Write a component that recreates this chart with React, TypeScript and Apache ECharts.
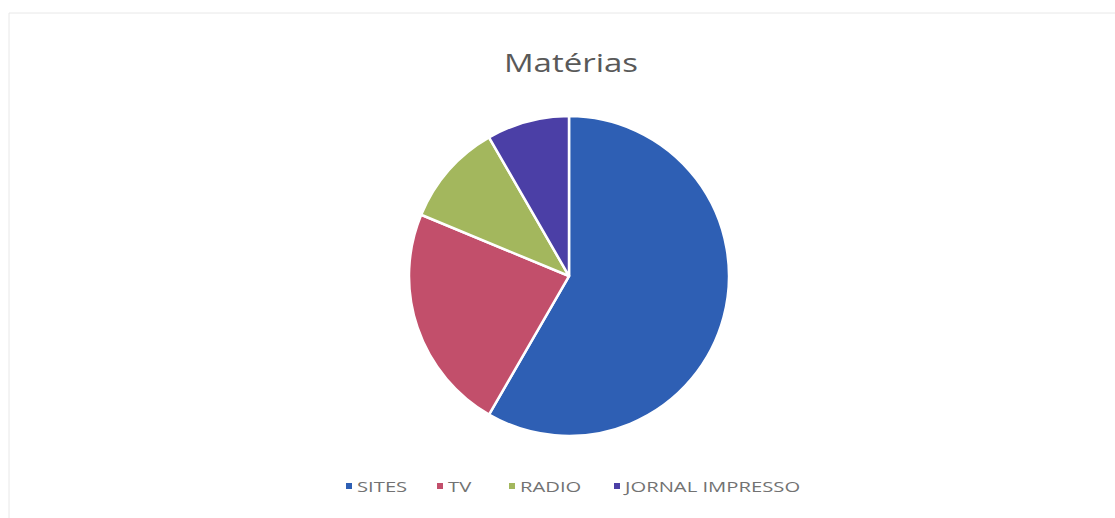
import React, { useEffect, useRef } from "react";
import * as echarts from "echarts";

const categories = ["SITES", "TV", "RADIO", "JORNAL IMPRESSO"];
const values = [140, 55, 25, 20];
const colors = ["#2E5FB4", "#C24F6B", "#A3B75D", "#4B3FA6"];
const titleText = "Matérias";

// legend layout (marker x positions)
const legendMarkerX = [346, 437, 509, 614];
const legendY = 486;

export default function App() {
  const ref = useRef<HTMLDivElement>(null);
  useEffect(() => {
    if (!ref.current) return;
    const chart = echarts.init(ref.current, null, { renderer: "svg" });
    const legendItems: any[] = [];
    categories.forEach((c, i) => {
      legendItems.push({
        type: "rect",
        shape: { x: legendMarkerX[i], y: legendY - 3, width: 6, height: 6 },
        style: { fill: colors[i] },
        silent: true,
      });
      legendItems.push({
        type: "text",
        x: legendMarkerX[i] + 11,
        y: legendY,
        scaleX: 1.35,
        style: {
          text: c,
          fontFamily: "Open Sans",
          fontSize: 15,
          fill: "#727272",
          align: "left",
          verticalAlign: "middle",
        },
        silent: true,
      });
    });
    chart.setOption({
      animation: false,
      backgroundColor: "#ffffff",
      graphic: [
        {
          type: "rect",
          shape: { x: 9, y: 13, width: 1120, height: 520 },
          style: { fill: "none", stroke: "#e8e8e8", lineWidth: 1 },
          silent: true,
        },
        {
          type: "text",
          x: 571,
          y: 63,
          scaleX: 1.32,
          style: {
            text: titleText,
            fontFamily: "Open Sans",
            fontSize: 25,
            fill: "#595959",
            align: "center",
            verticalAlign: "middle",
          },
        },
        ...legendItems,
      ],
      series: [
        {
          type: "pie",
          center: [569, 276],
          radius: 160,
          startAngle: 90,
          clockwise: true,
          label: { show: false },
          labelLine: { show: false },
          itemStyle: { borderColor: "#ffffff", borderWidth: 2.5 },
          data: categories.map((c, i) => ({
            name: c,
            value: values[i],
            itemStyle: { color: colors[i] },
          })),
        },
      ],
    });
    return () => chart.dispose();
  }, []);
  return (
    <div
      ref={ref}
      style={{ position: "fixed", left: 0, top: 0, width: 1115, height: 518 }}
    />
  );
}
